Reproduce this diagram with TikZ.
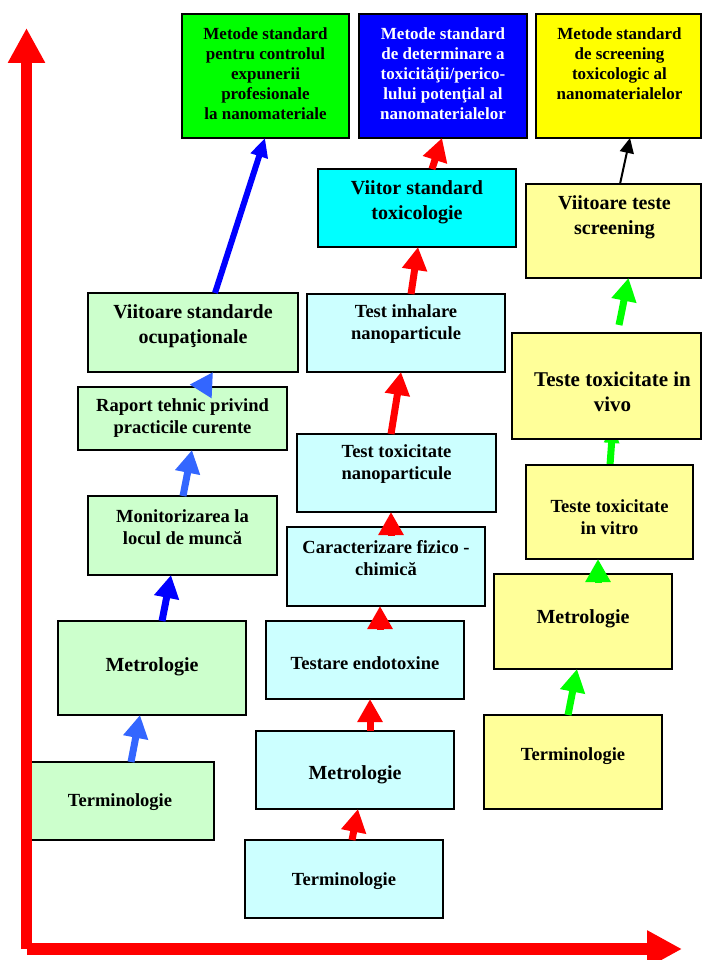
\documentclass[tikz,border=0pt]{standalone}
\usepackage{fontspec}
\setmainfont{Liberation Serif}
\usetikzlibrary{arrows.meta,calc,backgrounds}

\definecolor{lgreen}{HTML}{CCFFCC}
\definecolor{lcyan}{HTML}{CCFFFF}
\definecolor{lyellow}{HTML}{FFFF99}
\definecolor{vgreen}{HTML}{00FF00}
\definecolor{vcyan}{HTML}{00FFFF}
\definecolor{vblue}{HTML}{0000FF}
\definecolor{vyellow}{HTML}{FFFF00}
\definecolor{skyblue}{HTML}{3366FF}
\definecolor{vred}{HTML}{FF0000}

\begin{document}
\begin{tikzpicture}[x=1pt,y=-1pt,
  box/.style={draw=black, line width=1.8pt, inner sep=0pt, outer sep=0pt},
  lbl/.style={align=center, inner sep=0pt, yshift=-1.5pt},
  txt/.style={lbl, font=\bfseries\fontsize{18.5}{22}\selectfont},
  txtL/.style={lbl, font=\bfseries\fontsize{20}{25}\selectfont},
  txtXL/.style={lbl, font=\bfseries\fontsize{21}{25}\selectfont},
  txtS/.style={lbl, font=\bfseries\fontsize{17}{20}\selectfont},
  fat/.style={line width=7pt, -{Triangle[length=23pt,width=24pt]}},
  slim/.style={line width=6pt, -{Triangle[length=19pt,width=17pt]}},
  hidden/.style={line width=7pt, -{Triangle[length=20pt,width=14pt]}},
  thin/.style={line width=2pt, -{Triangle[length=15pt,width=14pt]}},
  axis/.style={vred, line width=11.5pt, -{Triangle[length=35pt,width=35pt]}}]

\useasboundingbox (0,0) rectangle (702,960);
\clip (0,0) rectangle (702,960);

% ---- occupational column (green) ----
\node[box, fill=lgreen, minimum width=188pt, minimum height=78pt] (G1) at (120,801) {};
\node[txt] (G1t) at (120,801) {Terminologie};
\node[box, fill=lgreen, minimum width=188pt, minimum height=94pt] (G2) at (152,668) {};
\node[txtL] (G2t) at (152,665) {Metrologie};
\node[box, fill=lgreen, minimum width=189pt, minimum height=79pt] (G3) at (182.5,535.5) {};
\node[txt] (G3t) at (182.5,526) {Monitorizarea la\\locul de muncă};
\node[box, fill=lgreen, minimum width=209pt, minimum height=63pt] (G4) at (182.5,418.5) {};
\node[txt] (G4t) at (182.5,416.5) {Raport tehnic privind\\practicile curente};
\node[box, fill=lgreen, minimum width=210pt, minimum height=79pt] (G5) at (193,332.5) {};
\node[txtL] (G5t) at (193,324.5) {Viitoare standarde\\ocupaţionale};
\node[box, fill=vgreen, minimum width=167pt, minimum height=124pt] (G6) at (265.5,76) {};
\node[txtS] (G6t) at (265.5,72.6) {Metode standard\\pentru controlul\\expunerii\\profesionale\\la nanomateriale};

% ---- toxicology column (cyan) ----
\node[box, fill=lcyan, minimum width=198pt, minimum height=78pt] (C1) at (344,879) {};
\node[txt] (C1t) at (344,880) {Terminologie};
\node[box, fill=lcyan, minimum width=198pt, minimum height=78pt] (C2) at (355,770) {};
\node[txtL] (C2t) at (355,773) {Metrologie};
\node[box, fill=lcyan, minimum width=198pt, minimum height=78pt] (C3) at (365,660) {};
\node[txt] (C3t) at (365,662) {Testare endotoxine};
\node[box, fill=lcyan, minimum width=198pt, minimum height=79pt] (C4) at (386,566.5) {};
\node[txt] (C4t) at (386,557) {Caracterizare fizico -\\chimică};
\node[box, fill=lcyan, minimum width=199pt, minimum height=78pt] (C5) at (396.5,473) {};
\node[txt] (C5t) at (396.5,463) {Test toxicitate\\nanoparticule};
\node[box, fill=lcyan, minimum width=198pt, minimum height=78pt] (C6) at (406,333) {};
\node[txt] (C6t) at (406,323) {Test inhalare\\nanoparticule};
\node[box, fill=vcyan, minimum width=198pt, minimum height=78pt] (C7) at (417,208) {};
\node[txtL] (C7t) at (417,200.5) {Viitor standard\\toxicologie};
\node[box, fill=vblue, minimum width=168pt, minimum height=124pt] (C8) at (443,76) {};
\node[txtS, text=white] (C8t) at (443,72.6) {Metode standard\\de determinare a\\toxicităţii/perico-\\lului potenţial al\\nanomaterialelor};

% ---- screening column (yellow) ----
\node[box, fill=lyellow, minimum width=178pt, minimum height=94pt] (Y1) at (573,762) {};
\node[txt] (Y1t) at (573,755) {Terminologie};
\node[box, fill=lyellow, minimum width=178pt, minimum height=95pt] (Y2) at (583,621.5) {};
\node[txtL] (Y2t) at (583,617) {Metrologie};
\node[box, fill=lyellow, minimum width=167pt, minimum height=94pt] (Y3) at (609.5,512) {};
\node[txt] (Y3t) at (609.5,516) {Teste toxicitate\\in vitro};
\node[box, fill=lyellow, minimum width=189pt, minimum height=106pt] (Y4) at (606.5,386) {};
\node[txtXL] (Y4t) at (612.5,390.5) {Teste toxicitate in\\vivo};
\node[box, fill=lyellow, minimum width=175pt, minimum height=94pt] (Y5) at (613.5,231) {};
\node[txtL] (Y5t) at (614.5,215.5) {Viitoare teste\\screening};
\node[box, fill=vyellow, minimum width=165pt, minimum height=124pt] (Y6) at (618.5,76) {};
\node[txtS] (Y6t) at (619.5,62.5) {Metode standard\\de screening\\toxicologic al\\nanomaterialelor};

% arrow tucked behind the in vivo box
\begin{pgfonlayer}{background}
  \draw[hidden, vgreen] ($(Y3.north)+(0.5,0)$) -- ($(Y4.south)+(6.5,-16)$);
\end{pgfonlayer}

% ---- progression arrows ----
\draw[fat, skyblue] ($(G1.north)+(11,0)$) -- ($(G2.south)+(-12,0)$);
\draw[fat, vblue]   ($(G2.north)+(10,0)$) -- ($(G3.south)+(-11.5,0)$);
\draw[fat, skyblue] ($(G3.north)+(0.5,0)$) -- ($(G4.south)+(9.5,0)$);
\draw[fat, skyblue] ($(G4.north)+(18.5,4)$) -- ($(G5.south)+(20,0)$);
\draw[slim, vblue]  ($(G5.north)+(22,0)$) -- ($(G6.south)+(-0.5,0)$);

\draw[fat, vred] ($(C1.north)+(8,0)$) -- ($(C2.south)+(3,0)$);
\draw[fat, vred] ($(C2.north)+(15,0)$) -- ($(C3.south)+(5,0)$);
\draw[fat, vred] ($(C3.north)+(15,9)$) -- ($(C4.south)+(-6,0)$);
\draw[fat, vred] ($(C4.north)+(5,9)$) -- ($(C5.south)+(-5.5,0)$);
\draw[fat, vred] ($(C5.north)+(-5.5,0)$) -- ($(C6.south)+(-5,0)$);
\draw[fat, vred] ($(C6.north)+(5,0)$) -- ($(C7.south)+(1,0)$);
\draw[fat, vred] ($(C7.north)+(15,0)$) -- ($(C8.south)+(-1,0)$);

\draw[fat, vgreen] ($(Y1.north)+(-5,0)$) -- ($(Y2.south)+(-6,0)$);
\draw[fat, vgreen] ($(Y2.north)+(15,9)$) -- ($(Y3.south)+(-11.5,0)$);
\draw[fat, vgreen] ($(Y4.north)+(12.5,-8)$) -- ($(Y5.south)+(15,0)$);
\draw[thin, black] ($(Y5.north)+(6.5,0)$) -- ($(Y6.south)+(11.5,0)$);

% ---- axes ----
\coordinate (vbase) at (26.5,949);
\coordinate (vtop) at (26.5,28);
\coordinate (hbase) at (27,949);
\coordinate (hend) at (682,949);
\draw[axis] (vbase) -- (vtop);
\draw[axis, line width=12pt] (hbase) -- (hend);
\end{tikzpicture}
\end{document}
